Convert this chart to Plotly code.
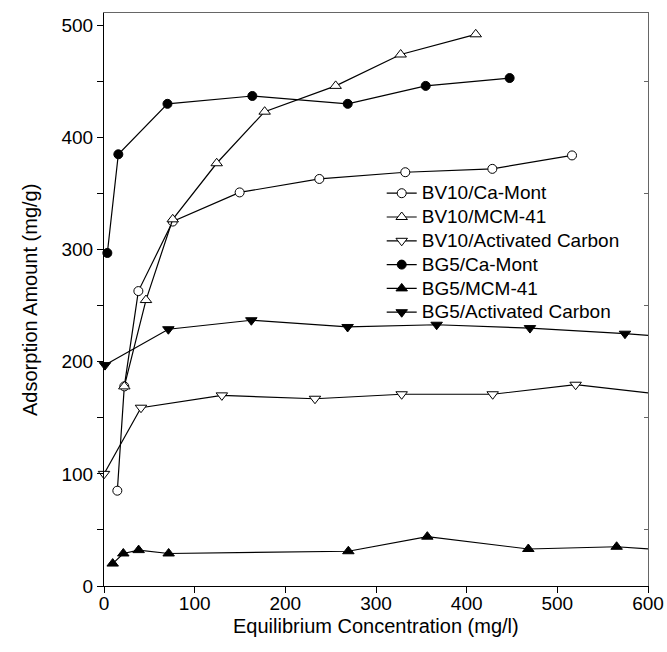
import plotly.graph_objects as go

# ---------------- data ----------------
BV10_CAMONT_X = [14.7, 22.4, 37.9, 75.8, 149.6, 237.5, 332.3, 428.3, 516.2]
BV10_CAMONT_Y = [85, 178, 263, 325, 351, 363, 369, 372, 384]

BV10_MCM_X = [22.4, 46.3, 75.8, 124.3, 177.2, 255.5, 327.2, 410.0]
BV10_MCM_Y = [178, 255, 327, 377, 423, 446, 474, 492]

BV10_AC_X = [0.0, 40.8, 130.0, 232.7, 328.3, 428.7, 520.2, 625.0]
BV10_AC_Y = [100, 159, 170, 167, 171, 171, 179.5, 170]

BG5_CAMONT_X = [3.7, 15.8, 70.0, 163.6, 268.8, 354.8, 447.4]
BG5_CAMONT_Y = [297, 385, 430, 437, 430, 446, 453]

BG5_MCM_X = [9.6, 21.3, 38.2, 71.3, 269.5, 356.6, 468.0, 565.4, 660.0]
BG5_MCM_Y = [20, 29, 32, 29, 31, 44, 33, 35, 30]

BG5_AC_X = [1.1, 71.0, 162.5, 268.7, 366.9, 469.8, 574.6, 680.0]
BG5_AC_Y = [197, 229, 237, 231, 233, 230, 225, 219]

SERIES_NAMES = ["BV10/Ca-Mont", "BV10/MCM-41", "BV10/Activated Carbon",
                "BG5/Ca-Mont", "BG5/MCM-41", "BG5/Activated Carbon"]

X_RANGE = [0, 600]
Y_RANGE = [0, 511]
RIGHT_TICKS = [50, 150, 250, 350, 450]

X_TITLE = "Equilibrium Concentration (mg/l)"
Y_TITLE = "Adsorption Amount (mg/g)"

FONT = "Liberation Sans, Arial, sans-serif"

series = [
    (SERIES_NAMES[0], BV10_CAMONT_X, BV10_CAMONT_Y, "circle", "white", 9),
    (SERIES_NAMES[1], BV10_MCM_X, BV10_MCM_Y, "triangle-up", "white", 10),
    (SERIES_NAMES[2], BV10_AC_X, BV10_AC_Y, "triangle-down", "white", 10),
    (SERIES_NAMES[3], BG5_CAMONT_X, BG5_CAMONT_Y, "circle", "black", 9),
    (SERIES_NAMES[4], BG5_MCM_X, BG5_MCM_Y, "triangle-up", "black", 10),
    (SERIES_NAMES[5], BG5_AC_X, BG5_AC_Y, "triangle-down", "black", 10),
]

fig = go.Figure()

# continuation segments for series whose last point lies beyond the axis
for name, xs, ys, sym, fill, size in series:
    inside = [i for i, v in enumerate(xs) if v <= X_RANGE[1]]
    if len(inside) < len(xs):
        last = inside[-1]
        fig.add_trace(go.Scatter(
            x=xs[last:last + 2], y=ys[last:last + 2], mode="lines",
            line=dict(color="black", width=1.2), showlegend=False,
            hoverinfo="skip"))

for name, xs, ys, sym, fill, size in series:
    inside = [i for i, v in enumerate(xs) if v <= X_RANGE[1]]
    fig.add_trace(go.Scatter(
        x=[xs[i] for i in inside], y=[ys[i] for i in inside],
        mode="lines+markers",
        name='<span style="font-size:19px">' + name + '</span>',
        line=dict(color="black", width=1.2),
        marker=dict(symbol=sym, size=size, color=fill,
                    line=dict(color="black", width=1)),
        cliponaxis=False))

# empty trace to create the mirrored frame axes (top / right)
fig.add_trace(go.Scatter(x=[], y=[], xaxis="x2", yaxis="y2",
                         showlegend=False, hoverinfo="skip"))

fig.update_layout(
    width=667, height=652,
    margin=dict(l=104, r=19, t=13, b=66, autoexpand=False),
    paper_bgcolor="white", plot_bgcolor="white",
    font=dict(family=FONT, size=19, color="black"),
    showlegend=True,
    legend=dict(x=0.5105, y=0.715, xanchor="left", yanchor="top",
                bgcolor="rgba(0,0,0,0)", font=dict(size=16),
                tracegroupgap=0),
    xaxis=dict(range=X_RANGE, dtick=100, tick0=0, ticks="outside",
               ticklen=6, tickcolor="black", showline=True,
               linecolor="black", linewidth=1, showgrid=False,
               zeroline=False, tickfont=dict(size=19), automargin=False,
               ticklabelstandoff=-6),
    yaxis=dict(range=Y_RANGE, dtick=100, tick0=0, ticks="outside",
               ticklen=6, tickcolor="black", showline=True,
               linecolor="black", linewidth=1, showgrid=False,
               zeroline=False, tickfont=dict(size=19), automargin=False,
               minor=dict(dtick=50, ticks="outside", ticklen=6,
                          tickcolor="black", showgrid=False)),
    xaxis2=dict(range=X_RANGE, overlaying="x", side="top",
                showline=True, linecolor="#666", linewidth=1,
                ticks="", showticklabels=False, showgrid=False,
                zeroline=False, automargin=False),
    yaxis2=dict(range=Y_RANGE, overlaying="y", side="right",
                showline=True, linecolor="#666", linewidth=1,
                tickmode="array", tickvals=RIGHT_TICKS,
                ticks="inside", ticklen=4, tickcolor="#666",
                showticklabels=False, showgrid=False, zeroline=False,
                automargin=False),
    annotations=[
        dict(text=X_TITLE, xref="paper", yref="paper", x=0.5,
             y=-0.070, xanchor="center", yanchor="middle",
             showarrow=False, font=dict(size=20)),
        dict(text=Y_TITLE, xref="paper", yref="paper", x=-0.137,
             y=0.5, xanchor="center", yanchor="middle", textangle=-90,
             showarrow=False, font=dict(size=20)),
    ],
)

fig.write_html("out.html")
